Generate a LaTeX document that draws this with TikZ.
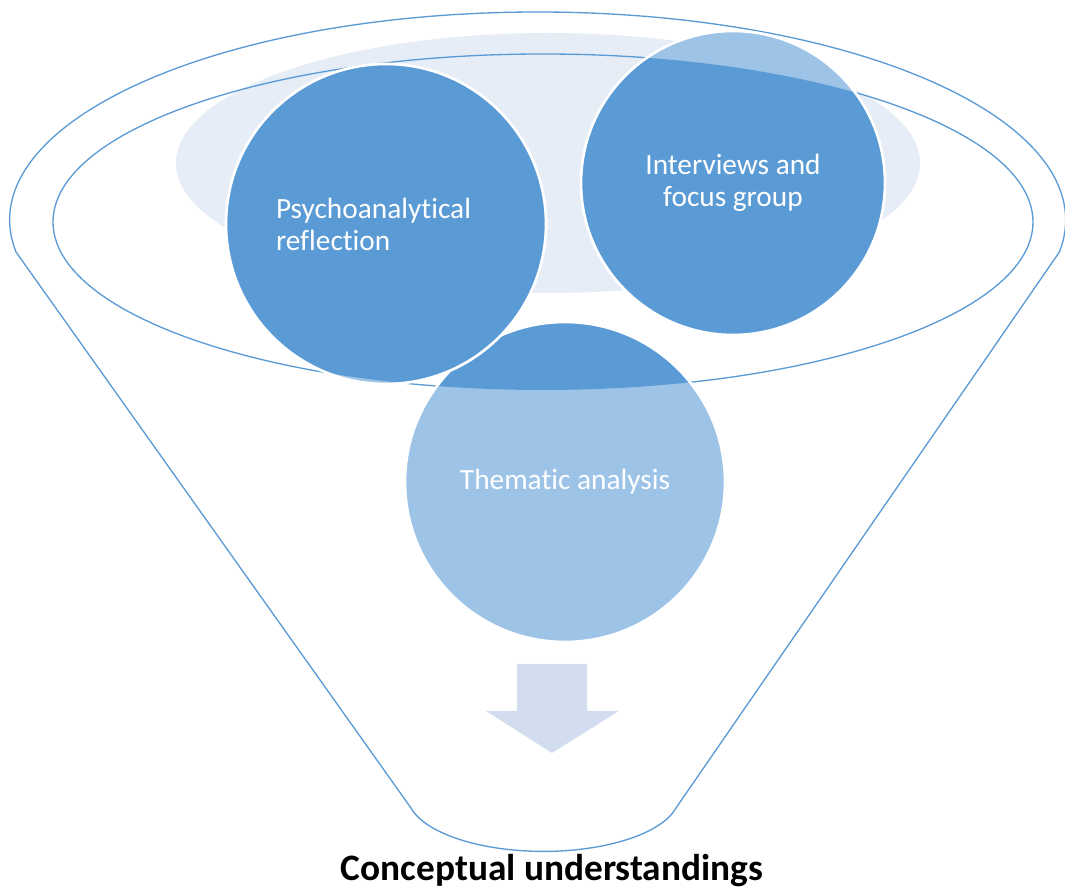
\documentclass[tikz,border=0pt]{standalone}
\usepackage{fontspec}
\setmainfont{Carlito}[Ligatures=NoCommon]
\usepackage{xcolor}
\usepackage{tikz}

\definecolor{funnelblue}{HTML}{5B9BD5}
\definecolor{bubblelight}{HTML}{9DC3E6}
\definecolor{rimfill}{HTML}{E6EDF7}
\definecolor{arrowfill}{HTML}{D2DEEF}

\begin{document}
\begin{tikzpicture}[x=0.75pt, y=0.75pt,
    outline/.style={draw=funnelblue, line width=1pt},
    bubble/.style={circle, draw=white, line width=2pt, fill=bubblelight, text=white,
        font=\fontsize{22}{24}\selectfont,
        path picture={\fill[funnelblue] (rimcentre) ellipse[x radius=490, y radius=168];}}]
    \useasboundingbox (0,0) rectangle (1065,891);

    % Funnel body
    \fill[rimfill] (548,728) ellipse[x radius=372, y radius=130];
    \draw[outline] (16,639) arc[start angle=188.85, end angle=-8.85, x radius=528, y radius=208]
        -- (676,83) arc[start angle=-13, end angle=-167, x radius=136, y radius=56] -- cycle;
    \coordinate (rimcentre) at (543,669);
    \draw[outline] (rimcentre) ellipse[x radius=490, y radius=168];

    % Bubbles
    \node[bubble, minimum size=240pt] (thematic) at (565,409) {Thematic analysis};
    \node[bubble, minimum size=240pt, text width=165pt, align=left] (psycho) at (386,667) {Psychoanalytical\\reflection};
    \node[bubble, minimum size=228pt, align=center] (interviews) at (733,708) {Interviews and\\focus group};

    % Down arrow
    \fill[arrowfill] (517,227) -- (587,227) -- (587,180) -- (619,180) -- (552,138)
        -- (486,180) -- (517,180) -- cycle;

    \node[font=\bfseries\fontsize{28}{32}\selectfont] (result) at (552,20) {Conceptual understandings};
\end{tikzpicture}
\end{document}
